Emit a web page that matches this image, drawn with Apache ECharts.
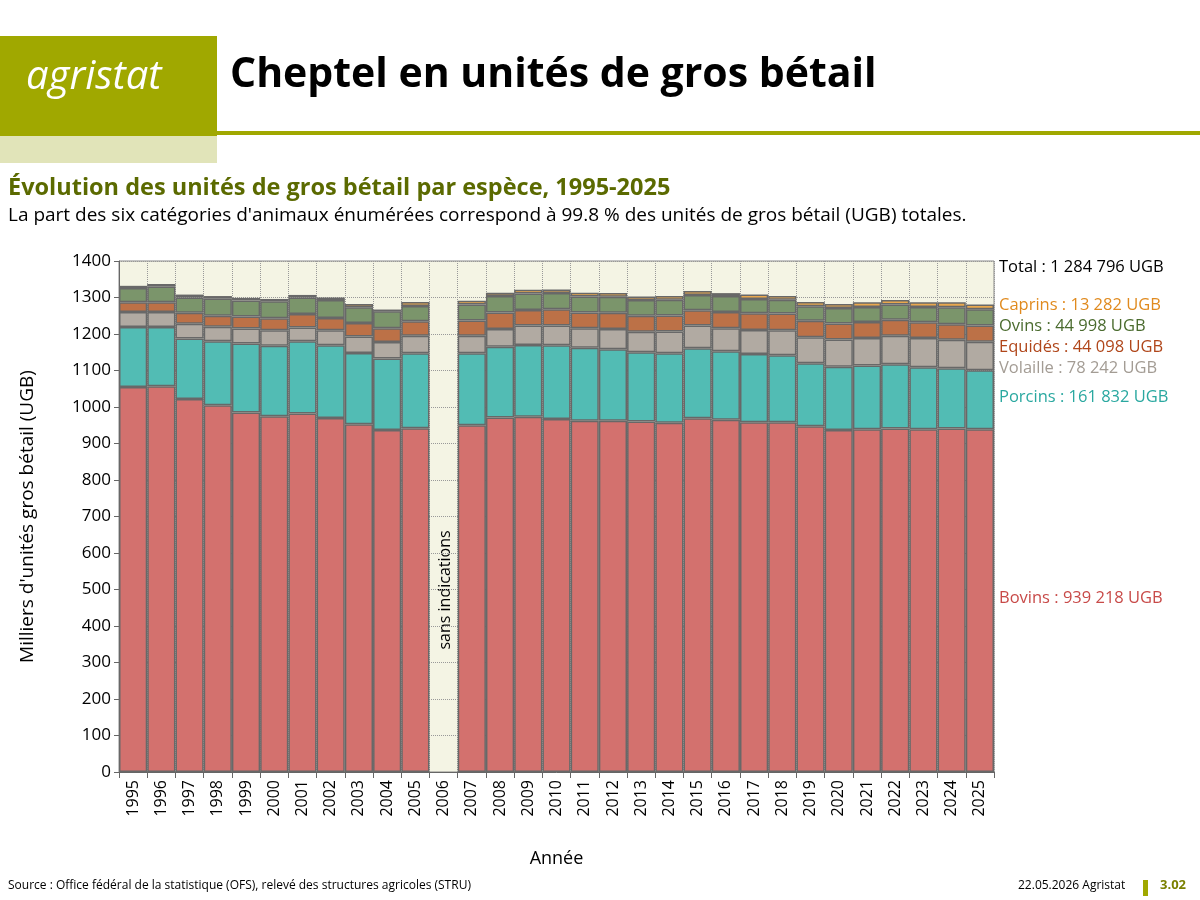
<!DOCTYPE html>
<html><head><meta charset="utf-8">
<script src="https://cdn.jsdelivr.net/npm/echarts@6/dist/echarts.min.js"></script>
<style>html,body{margin:0;padding:0;background:#fff}#c{width:1200px;height:900px}</style>
</head><body><div id="c"></div>
<script>
const years=['1995','1996','1997','1998','1999','2000','2001','2002','2003','2004','2005','2006','2007','2008','2009','2010','2011','2012','2013','2014','2015','2016','2017','2018','2019','2020','2021','2022','2023','2024','2025'];
const bovins=[1055,1057,1022,1005,985,975,982,970,953,937,942,null,950,971,973,967,962,962,960,957,969,965,958,958,947,937,939,941,939,941,939];
const porcins=[164,162,166,175,189,193,198,199,195,196,205,null,197,194,197,202,200,196,190,190,192,188,187,184,173,173,175,176,170,165,162];
const volaille=[41,41,40,40,41,42,38,41,45,45,48,null,48,49,53,54,54,56,56,60,62,63,66,68,71,75,75,78,80,78,78];
const equides=[27,27,30,30,33,33,37,34,37,38,40,null,42,45,43,45,43,44,44,44,42,44,46,46,45,44,44,44,43,43,44];
const ovins=[39,43,42,47,44,47,45,49,43,46,42,null,44,45,45,44,44,44,43,43,42,44,39,38,40,42,41,42,42,46,45];
const caprins=[6,7,8,7,7,6,7,7,9,5,11,null,10,9,10,10,10,10,10,10,11,8,12,10,12,11,13,12,13,14,13];
const seriesDef=[['Bovins',bovins,'#d3716e'],['Porcins',porcins,'#52bcb4'],['Volaille',volaille,'#b1aaa2'],['Equidés',equides,'#bc7147'],['Ovins',ovins,'#7b956b'],['Caprins',caprins,'#e9a84e']];
const labels=[['Total : 1 284 796 UGB',270,'#000'],['Caprins : 13 282 UGB',308,'#e08a1e'],['Ovins : 44 998 UGB',329,'#4a6b2e'],['Equidés : 44 098 UGB',350,'#b0461a'],['Volaille : 78 242 UGB',371,'#a39c94'],['Porcins : 161 832 UGB',400,'#2aa8a0'],['Bovins : 939 218 UGB',601,'#c84a48']];
const ch=echarts.init(document.getElementById('c'));
const F='"Open Sans", "Noto Sans", sans-serif';
const g=[
 {type:'rect',shape:{x:0,y:36,width:217,height:100},style:{fill:'#a0a800'}},
 {type:'rect',shape:{x:0,y:136,width:217,height:27},style:{fill:'#e1e4b9'}},
 {type:'rect',shape:{x:217,y:131,width:983,height:4},style:{fill:'#a0a800'}},
 {type:'text',left:26,top:58,style:{text:'agristat',fill:'#fff',font:'italic 40px '+F}},
 {type:'text',left:230,top:55,style:{text:'Cheptel en unités de gros bétail',fill:'#000',font:'bold 41px '+F}},
 {type:'text',left:8,top:176,style:{text:'Évolution des unités de gros bétail par espèce, 1995-2025',fill:'#5b6a00',font:'bold 23.5px '+F}},
 {type:'text',left:8,top:206,style:{text:"La part des six catégories d'animaux énumérées correspond à 99.8 % des unités de gros bétail (UGB) totales.",fill:'#000',font:'19px '+F}},
 {type:'text',x:445,y:590,rotation:Math.PI/2,style:{text:'sans indications',fill:'#000',font:'16px '+F,align:'center',verticalAlign:'middle'}},
 {type:'text',left:8,top:880,style:{text:'Source : Office fédéral de la statistique (OFS), relevé des structures agricoles (STRU)',fill:'#000',font:'12px '+F}},
 {type:'text',left:1018,top:880,style:{text:'22.05.2026 Agristat',fill:'#000',font:'12px '+F}},
 {type:'rect',shape:{x:1143,y:880,width:5,height:16},style:{fill:'#a0a800'}},
 {type:'text',left:1160,top:879,style:{text:'3.02',fill:'#7a8000',font:'bold 13px '+F}}
];
labels.forEach(l=>g.push({type:'text',left:999,top:l[1]-11,style:{text:l[0],fill:l[2],font:'16.5px '+F}}));
ch.setOption({
 animation:false,
 textStyle:{fontFamily:F},
 grid:{left:119,right:206,top:261,bottom:128,show:true,backgroundColor:'#f4f4e4',borderColor:'#888',borderWidth:1},
 graphic:g,
 xAxis:{type:'category',data:years,name:'Année',nameLocation:'middle',nameGap:78,nameTextStyle:{fontSize:18,color:'#000'},
  axisLabel:{rotate:90,fontSize:16,color:'#000',interval:0},axisTick:{show:true,length:6,lineStyle:{color:'#666'}},
  axisLine:{lineStyle:{color:'#666'}},splitLine:{show:true,interval:0,lineStyle:{type:'dotted',color:'#999'}}},
 yAxis:{type:'value',min:0,max:1400,interval:100,name:"Milliers d'unités gros bétail (UGB)",nameLocation:'middle',nameGap:82,nameTextStyle:{fontSize:19,color:'#000'},
  axisLabel:{fontSize:17,color:'#000',formatter:v=>String(v)},axisLine:{show:true,lineStyle:{color:'#666'}},axisTick:{show:true,lineStyle:{color:'#666'}},
  splitLine:{lineStyle:{type:'dotted',color:'#999'}}},
 series:seriesDef.map(s=>({name:s[0],type:'bar',stack:'a',data:s[1],barCategoryGap:0,itemStyle:{color:s[2],borderColor:'#686868',borderWidth:1.5}}))
});
</script></body></html>
